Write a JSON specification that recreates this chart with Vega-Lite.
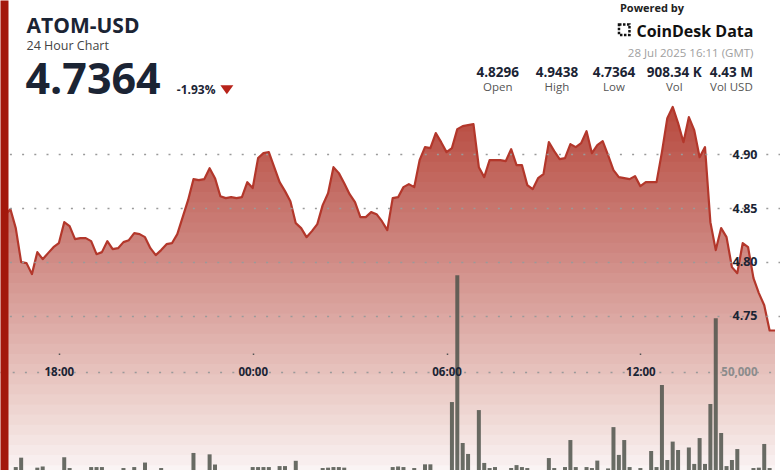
{
"$schema":"https://vega.github.io/schema/vega-lite/v6.json",
"width":780,"height":470,
"autosize":{"type":"none"},
"padding":0,
"background":"white",
"config":{"view":{"stroke":null},"font":"Open Sans"},
"data":{"values":[
{"time":"2025-07-27T16:20Z","price":4.8434,"volume":0},
{"time":"2025-07-27T16:30Z","price":4.8490,"volume":0},
{"time":"2025-07-27T16:40Z","price":4.8314,"volume":1500},
{"time":"2025-07-27T16:50Z","price":4.7998,"volume":6300},
{"time":"2025-07-27T17:00Z","price":4.7989,"volume":0},
{"time":"2025-07-27T17:10Z","price":4.7887,"volume":0},
{"time":"2025-07-27T17:20Z","price":4.8091,"volume":1200},
{"time":"2025-07-27T17:30Z","price":4.8026,"volume":1800},
{"time":"2025-07-27T17:40Z","price":4.8082,"volume":0},
{"time":"2025-07-27T17:50Z","price":4.8137,"volume":0},
{"time":"2025-07-27T18:00Z","price":4.8174,"volume":0},
{"time":"2025-07-27T18:10Z","price":4.8369,"volume":6500},
{"time":"2025-07-27T18:20Z","price":4.8332,"volume":1000},
{"time":"2025-07-27T18:30Z","price":4.8212,"volume":0},
{"time":"2025-07-27T18:40Z","price":4.8221,"volume":0},
{"time":"2025-07-27T18:50Z","price":4.8221,"volume":0},
{"time":"2025-07-27T19:00Z","price":4.8193,"volume":1500},
{"time":"2025-07-27T19:10Z","price":4.8072,"volume":1500},
{"time":"2025-07-27T19:20Z","price":4.8091,"volume":1500},
{"time":"2025-07-27T19:30Z","price":4.8193,"volume":0},
{"time":"2025-07-27T19:40Z","price":4.8119,"volume":0},
{"time":"2025-07-27T19:50Z","price":4.8128,"volume":0},
{"time":"2025-07-27T20:00Z","price":4.8184,"volume":1000},
{"time":"2025-07-27T20:10Z","price":4.8202,"volume":0},
{"time":"2025-07-27T20:20Z","price":4.8267,"volume":1500},
{"time":"2025-07-27T20:30Z","price":4.8258,"volume":0},
{"time":"2025-07-27T20:40Z","price":4.8230,"volume":3800},
{"time":"2025-07-27T20:50Z","price":4.8128,"volume":0},
{"time":"2025-07-27T21:00Z","price":4.8063,"volume":0},
{"time":"2025-07-27T21:10Z","price":4.8110,"volume":1000},
{"time":"2025-07-27T21:20Z","price":4.8165,"volume":0},
{"time":"2025-07-27T21:30Z","price":4.8174,"volume":0},
{"time":"2025-07-27T21:40Z","price":4.8258,"volume":0},
{"time":"2025-07-27T21:50Z","price":4.8416,"volume":0},
{"time":"2025-07-27T22:00Z","price":4.8573,"volume":0},
{"time":"2025-07-27T22:10Z","price":4.8768,"volume":8700},
{"time":"2025-07-27T22:20Z","price":4.8759,"volume":0},
{"time":"2025-07-27T22:30Z","price":4.8768,"volume":0},
{"time":"2025-07-27T22:40Z","price":4.8870,"volume":8000},
{"time":"2025-07-27T22:50Z","price":4.8777,"volume":2800},
{"time":"2025-07-27T23:00Z","price":4.8610,"volume":0},
{"time":"2025-07-27T23:10Z","price":4.8592,"volume":0},
{"time":"2025-07-27T23:20Z","price":4.8601,"volume":0},
{"time":"2025-07-27T23:30Z","price":4.8592,"volume":0},
{"time":"2025-07-27T23:40Z","price":4.8601,"volume":0},
{"time":"2025-07-27T23:50Z","price":4.8740,"volume":0},
{"time":"2025-07-28T00:00Z","price":4.8685,"volume":1500},
{"time":"2025-07-28T00:10Z","price":4.8963,"volume":1500},
{"time":"2025-07-28T00:20Z","price":4.9009,"volume":1500},
{"time":"2025-07-28T00:30Z","price":4.9019,"volume":1500},
{"time":"2025-07-28T00:40Z","price":4.8879,"volume":0},
{"time":"2025-07-28T00:50Z","price":4.8740,"volume":2000},
{"time":"2025-07-28T01:00Z","price":4.8657,"volume":2000},
{"time":"2025-07-28T01:10Z","price":4.8564,"volume":0},
{"time":"2025-07-28T01:20Z","price":4.8360,"volume":4700},
{"time":"2025-07-28T01:30Z","price":4.8314,"volume":0},
{"time":"2025-07-28T01:40Z","price":4.8230,"volume":0},
{"time":"2025-07-28T01:50Z","price":4.8286,"volume":0},
{"time":"2025-07-28T02:00Z","price":4.8351,"volume":0},
{"time":"2025-07-28T02:10Z","price":4.8527,"volume":1000},
{"time":"2025-07-28T02:20Z","price":4.8638,"volume":1200},
{"time":"2025-07-28T02:30Z","price":4.8879,"volume":1500},
{"time":"2025-07-28T02:40Z","price":4.8824,"volume":1500},
{"time":"2025-07-28T02:50Z","price":4.8731,"volume":1200},
{"time":"2025-07-28T03:00Z","price":4.8629,"volume":0},
{"time":"2025-07-28T03:10Z","price":4.8555,"volume":0},
{"time":"2025-07-28T03:20Z","price":4.8416,"volume":0},
{"time":"2025-07-28T03:30Z","price":4.8416,"volume":0},
{"time":"2025-07-28T03:40Z","price":4.8462,"volume":0},
{"time":"2025-07-28T03:50Z","price":4.8443,"volume":0},
{"time":"2025-07-28T04:00Z","price":4.8378,"volume":0},
{"time":"2025-07-28T04:10Z","price":4.8295,"volume":0},
{"time":"2025-07-28T04:20Z","price":4.8592,"volume":1500},
{"time":"2025-07-28T04:30Z","price":4.8601,"volume":1800},
{"time":"2025-07-28T04:40Z","price":4.8694,"volume":1500},
{"time":"2025-07-28T04:50Z","price":4.8722,"volume":0},
{"time":"2025-07-28T05:00Z","price":4.8694,"volume":1000},
{"time":"2025-07-28T05:10Z","price":4.8944,"volume":0},
{"time":"2025-07-28T05:20Z","price":4.9065,"volume":2900},
{"time":"2025-07-28T05:30Z","price":4.9056,"volume":2900},
{"time":"2025-07-28T05:40Z","price":4.9195,"volume":0},
{"time":"2025-07-28T05:50Z","price":4.9111,"volume":0},
{"time":"2025-07-28T06:00Z","price":4.9019,"volume":0},
{"time":"2025-07-28T06:10Z","price":4.9056,"volume":34700},
{"time":"2025-07-28T06:20Z","price":4.9232,"volume":99500},
{"time":"2025-07-28T06:30Z","price":4.9260,"volume":13800},
{"time":"2025-07-28T06:40Z","price":4.9269,"volume":8200},
{"time":"2025-07-28T06:50Z","price":4.9278,"volume":0},
{"time":"2025-07-28T07:00Z","price":4.8879,"volume":30600},
{"time":"2025-07-28T07:10Z","price":4.8787,"volume":3600},
{"time":"2025-07-28T07:20Z","price":4.8944,"volume":1000},
{"time":"2025-07-28T07:30Z","price":4.8944,"volume":1500},
{"time":"2025-07-28T07:40Z","price":4.8944,"volume":0},
{"time":"2025-07-28T07:50Z","price":4.8935,"volume":0},
{"time":"2025-07-28T08:00Z","price":4.9046,"volume":1000},
{"time":"2025-07-28T08:10Z","price":4.8898,"volume":2500},
{"time":"2025-07-28T08:20Z","price":4.8898,"volume":1500},
{"time":"2025-07-28T08:30Z","price":4.8713,"volume":1000},
{"time":"2025-07-28T08:40Z","price":4.8675,"volume":0},
{"time":"2025-07-28T08:50Z","price":4.8777,"volume":0},
{"time":"2025-07-28T09:00Z","price":4.8815,"volume":0},
{"time":"2025-07-28T09:10Z","price":4.9111,"volume":6100},
{"time":"2025-07-28T09:20Z","price":4.9028,"volume":1000},
{"time":"2025-07-28T09:30Z","price":4.8954,"volume":0},
{"time":"2025-07-28T09:40Z","price":4.8963,"volume":1500},
{"time":"2025-07-28T09:50Z","price":4.9093,"volume":15300},
{"time":"2025-07-28T10:00Z","price":4.9065,"volume":1500},
{"time":"2025-07-28T10:10Z","price":4.9102,"volume":0},
{"time":"2025-07-28T10:20Z","price":4.9213,"volume":1500},
{"time":"2025-07-28T10:30Z","price":4.9009,"volume":1000},
{"time":"2025-07-28T10:40Z","price":4.9084,"volume":4800},
{"time":"2025-07-28T10:50Z","price":4.9121,"volume":0},
{"time":"2025-07-28T11:00Z","price":4.8991,"volume":800},
{"time":"2025-07-28T11:10Z","price":4.8852,"volume":21900},
{"time":"2025-07-28T11:20Z","price":4.8787,"volume":7700},
{"time":"2025-07-28T11:30Z","price":4.8777,"volume":15300},
{"time":"2025-07-28T11:40Z","price":4.8768,"volume":1500},
{"time":"2025-07-28T11:50Z","price":4.8796,"volume":0},
{"time":"2025-07-28T12:00Z","price":4.8703,"volume":1000},
{"time":"2025-07-28T12:10Z","price":4.8740,"volume":0},
{"time":"2025-07-28T12:20Z","price":4.8740,"volume":9700},
{"time":"2025-07-28T12:30Z","price":4.8740,"volume":1500},
{"time":"2025-07-28T12:40Z","price":4.9019,"volume":43400},
{"time":"2025-07-28T12:50Z","price":4.9334,"volume":5100},
{"time":"2025-07-28T13:00Z","price":4.9438,"volume":14500},
{"time":"2025-07-28T13:10Z","price":4.9288,"volume":10200},
{"time":"2025-07-28T13:20Z","price":4.9111,"volume":0},
{"time":"2025-07-28T13:30Z","price":4.9343,"volume":11500},
{"time":"2025-07-28T13:40Z","price":4.9223,"volume":3100},
{"time":"2025-07-28T13:50Z","price":4.8972,"volume":16300},
{"time":"2025-07-28T14:00Z","price":4.9065,"volume":3100},
{"time":"2025-07-28T14:10Z","price":4.8369,"volume":33700},
{"time":"2025-07-28T14:20Z","price":4.8110,"volume":77500},
{"time":"2025-07-28T14:30Z","price":4.8314,"volume":18900},
{"time":"2025-07-28T14:40Z","price":4.8230,"volume":2000},
{"time":"2025-07-28T14:50Z","price":4.7952,"volume":5100},
{"time":"2025-07-28T15:00Z","price":4.7896,"volume":10700},
{"time":"2025-07-28T15:10Z","price":4.8174,"volume":0},
{"time":"2025-07-28T15:20Z","price":4.8137,"volume":0},
{"time":"2025-07-28T15:30Z","price":4.7850,"volume":1000},
{"time":"2025-07-28T15:40Z","price":4.7711,"volume":1200},
{"time":"2025-07-28T15:50Z","price":4.7599,"volume":13300},
{"time":"2025-07-28T16:00Z","price":4.7364,"volume":1000},
{"time":"2025-07-28T16:10Z","price":4.7364,"volume":0}
]},
"resolve":{"scale":{"y":"independent"}},
"layer":[
{"mark":{"type":"area","interpolate":"linear","color":"#b9483c"},
 "encoding":{
  "x":{"field":"time","type":"temporal",
   "scale":{"type":"utc","domain":[{"year":2025,"month":7,"date":27,"hours":16,"minutes":20,"utc":true},{"year":2025,"month":7,"date":28,"hours":16,"minutes":10,"utc":true}]},
   "axis":{"orient":"bottom","offset":-117,"title":null,"values":[{"year":2025,"month":7,"date":27,"hours":18,"utc":true},{"year":2025,"month":7,"date":28,"hours":0,"utc":true},{"year":2025,"month":7,"date":28,"hours":6,"utc":true},{"year":2025,"month":7,"date":28,"hours":12,"utc":true}],
    "labelExpr":"(utchours(datum.value) < 10 ? '0' : '') + utchours(datum.value) + ':00'","domain":false,"grid":false,"ticks":true,"tickSize":1.5,"tickColor":"#555555","tickWidth":1.5,
    "labelPadding":17.5,"labelBaseline":"middle","labelFlush":false,"labelOverlap":false,"labelFont":"Open Sans","labelFontSize":11.5,"labelFontWeight":"bold","labelColor":"#1b2434","zindex":1}},
  "y":{"field":"price","type":"quantitative","scale":{"domain":[4.607,5.043],"zero":false,"nice":false},
   "axis":{"orient":"right","title":null,"values":[4.75,4.8,4.85,4.9],"format":".2f","ticks":false,"domain":false,"labelAlign":"right","labelPadding":-23,"labelBaseline":"middle","labelFont":"Open Sans","labelFontSize":12.5,"labelFontWeight":"bold","labelColor":"#1b2434","grid":true,"gridDash":[2,10.2],"gridColor":"#9a9a9a","gridWidth":1.5,"zindex":1}}
 }},
{"layer":[
 {"data":{"values":[{}]},"mark":{"type":"rect","color":"white","opacity":0.0264},"encoding":{"y":{"datum":4.9398,"type":"quantitative","scale":{"domain":[4.607,5.043],"zero":false,"nice":false},"axis":null},"y2":{"datum":4.607}}},
 {"data":{"values":[{}]},"mark":{"type":"rect","color":"white","opacity":0.0271},"encoding":{"y":{"datum":4.9304,"type":"quantitative","axis":null},"y2":{"datum":4.607}}},
 {"data":{"values":[{}]},"mark":{"type":"rect","color":"white","opacity":0.0279},"encoding":{"y":{"datum":4.9211,"type":"quantitative","axis":null},"y2":{"datum":4.607}}},
 {"data":{"values":[{}]},"mark":{"type":"rect","color":"white","opacity":0.0287},"encoding":{"y":{"datum":4.9117,"type":"quantitative","axis":null},"y2":{"datum":4.607}}},
 {"data":{"values":[{}]},"mark":{"type":"rect","color":"white","opacity":0.0295},"encoding":{"y":{"datum":4.9023,"type":"quantitative","axis":null},"y2":{"datum":4.607}}},
 {"data":{"values":[{}]},"mark":{"type":"rect","color":"white","opacity":0.0304},"encoding":{"y":{"datum":4.8929,"type":"quantitative","axis":null},"y2":{"datum":4.607}}},
 {"data":{"values":[{}]},"mark":{"type":"rect","color":"white","opacity":0.0314},"encoding":{"y":{"datum":4.8835,"type":"quantitative","axis":null},"y2":{"datum":4.607}}},
 {"data":{"values":[{}]},"mark":{"type":"rect","color":"white","opacity":0.0324},"encoding":{"y":{"datum":4.8742,"type":"quantitative","axis":null},"y2":{"datum":4.607}}},
 {"data":{"values":[{}]},"mark":{"type":"rect","color":"white","opacity":0.0335},"encoding":{"y":{"datum":4.8648,"type":"quantitative","axis":null},"y2":{"datum":4.607}}},
 {"data":{"values":[{}]},"mark":{"type":"rect","color":"white","opacity":0.0346},"encoding":{"y":{"datum":4.8554,"type":"quantitative","axis":null},"y2":{"datum":4.607}}},
 {"data":{"values":[{}]},"mark":{"type":"rect","color":"white","opacity":0.0358},"encoding":{"y":{"datum":4.8460,"type":"quantitative","axis":null},"y2":{"datum":4.607}}},
 {"data":{"values":[{}]},"mark":{"type":"rect","color":"white","opacity":0.0372},"encoding":{"y":{"datum":4.8366,"type":"quantitative","axis":null},"y2":{"datum":4.607}}},
 {"data":{"values":[{}]},"mark":{"type":"rect","color":"white","opacity":0.0386},"encoding":{"y":{"datum":4.8273,"type":"quantitative","axis":null},"y2":{"datum":4.607}}},
 {"data":{"values":[{}]},"mark":{"type":"rect","color":"white","opacity":0.0402},"encoding":{"y":{"datum":4.8179,"type":"quantitative","axis":null},"y2":{"datum":4.607}}},
 {"data":{"values":[{}]},"mark":{"type":"rect","color":"white","opacity":0.0418},"encoding":{"y":{"datum":4.8085,"type":"quantitative","axis":null},"y2":{"datum":4.607}}},
 {"data":{"values":[{}]},"mark":{"type":"rect","color":"white","opacity":0.0437},"encoding":{"y":{"datum":4.7991,"type":"quantitative","axis":null},"y2":{"datum":4.607}}},
 {"data":{"values":[{}]},"mark":{"type":"rect","color":"white","opacity":0.0457},"encoding":{"y":{"datum":4.7897,"type":"quantitative","axis":null},"y2":{"datum":4.607}}},
 {"data":{"values":[{}]},"mark":{"type":"rect","color":"white","opacity":0.0479},"encoding":{"y":{"datum":4.7804,"type":"quantitative","axis":null},"y2":{"datum":4.607}}},
 {"data":{"values":[{}]},"mark":{"type":"rect","color":"white","opacity":0.0503},"encoding":{"y":{"datum":4.7710,"type":"quantitative","axis":null},"y2":{"datum":4.607}}},
 {"data":{"values":[{}]},"mark":{"type":"rect","color":"white","opacity":0.0529},"encoding":{"y":{"datum":4.7616,"type":"quantitative","axis":null},"y2":{"datum":4.607}}},
 {"data":{"values":[{}]},"mark":{"type":"rect","color":"white","opacity":0.0559},"encoding":{"y":{"datum":4.7522,"type":"quantitative","axis":null},"y2":{"datum":4.607}}},
 {"data":{"values":[{}]},"mark":{"type":"rect","color":"white","opacity":0.0592},"encoding":{"y":{"datum":4.7428,"type":"quantitative","axis":null},"y2":{"datum":4.607}}},
 {"data":{"values":[{}]},"mark":{"type":"rect","color":"white","opacity":0.0629},"encoding":{"y":{"datum":4.7335,"type":"quantitative","axis":null},"y2":{"datum":4.607}}},
 {"data":{"values":[{}]},"mark":{"type":"rect","color":"white","opacity":0.0671},"encoding":{"y":{"datum":4.7241,"type":"quantitative","axis":null},"y2":{"datum":4.607}}},
 {"data":{"values":[{}]},"mark":{"type":"rect","color":"white","opacity":0.0720},"encoding":{"y":{"datum":4.7147,"type":"quantitative","axis":null},"y2":{"datum":4.607}}},
 {"data":{"values":[{}]},"mark":{"type":"rect","color":"white","opacity":0.0776},"encoding":{"y":{"datum":4.7053,"type":"quantitative","axis":null},"y2":{"datum":4.607}}},
 {"data":{"values":[{}]},"mark":{"type":"rect","color":"white","opacity":0.0841},"encoding":{"y":{"datum":4.6959,"type":"quantitative","axis":null},"y2":{"datum":4.607}}},
 {"data":{"values":[{}]},"mark":{"type":"rect","color":"white","opacity":0.0918},"encoding":{"y":{"datum":4.6866,"type":"quantitative","axis":null},"y2":{"datum":4.607}}},
 {"data":{"values":[{}]},"mark":{"type":"rect","color":"white","opacity":0.1011},"encoding":{"y":{"datum":4.6772,"type":"quantitative","axis":null},"y2":{"datum":4.607}}},
 {"data":{"values":[{}]},"mark":{"type":"rect","color":"white","opacity":0.1124},"encoding":{"y":{"datum":4.6678,"type":"quantitative","axis":null},"y2":{"datum":4.607}}},
 {"data":{"values":[{}]},"mark":{"type":"rect","color":"white","opacity":0.1267},"encoding":{"y":{"datum":4.6584,"type":"quantitative","axis":null},"y2":{"datum":4.607}}},
 {"data":{"values":[{}]},"mark":{"type":"rect","color":"white","opacity":0.1450},"encoding":{"y":{"datum":4.6490,"type":"quantitative","axis":null},"y2":{"datum":4.607}}},
 {"data":{"values":[{}]},"mark":{"type":"rect","color":"white","opacity":0.1696},"encoding":{"y":{"datum":4.6397,"type":"quantitative","axis":null},"y2":{"datum":4.607}}},
 {"data":{"values":[{}]},"mark":{"type":"rect","color":"white","opacity":0.2043},"encoding":{"y":{"datum":4.6303,"type":"quantitative","axis":null},"y2":{"datum":4.607}}},
 {"data":{"values":[{}]},"mark":{"type":"rect","color":"white","opacity":0.2568},"encoding":{"y":{"datum":4.6209,"type":"quantitative","axis":null},"y2":{"datum":4.607}}},
 {"data":{"values":[{}]},"mark":{"type":"rect","color":"white","opacity":0.3455},"encoding":{"y":{"datum":4.6115,"type":"quantitative","axis":null},"y2":{"datum":4.607}}}
]},
{"mark":{"type":"bar","size":4,"color":"#4f534b","opacity":0.85},
 "encoding":{
  "x":{"field":"time","type":"temporal"},
  "y":{"field":"volume","type":"quantitative","scale":{"domain":[0,240000],"nice":false},
   "axis":{"orient":"left","title":null,"values":[50000],"labelExpr":"datum.value == 50000 ? '50,000' : ''","offset":-4,"domain":true,"domainColor":"#a3180c","domainWidth":8,"ticks":false,"labelPadding":-753,"labelAlign":"right","labelBaseline":"middle","labelFont":"Open Sans","labelFontSize":11.5,"labelFontWeight":"bold","labelColor":"#8c8c8c","grid":true,"gridDash":[2,10.2],"gridColor":"#9a9a9a","gridWidth":1.5,"zindex":1}}
 }},
{"layer":[
 {"mark":{"type":"line","color":"#b3372b","strokeWidth":2.2,"strokeJoin":"round"},
  "encoding":{"x":{"field":"time","type":"temporal"},"y":{"field":"price","type":"quantitative","scale":{"domain":[4.607,5.043],"zero":false,"nice":false},"axis":null}}},
 {"data":{"values":[{}]},"mark":{"type":"text","text":"ATOM-USD","align":"left","baseline":"alphabetic","font":"Open Sans","fontSize":21,"fontWeight":"bold","color":"#1b2434"},
  "encoding":{"x":{"datum":{"year":2025,"month":7,"date":27,"hours":17,"minutes":0,"utc":true},"type":"temporal"},"y":{"datum":5.0122,"type":"quantitative","axis":null}}},
 {"data":{"values":[{}]},"mark":{"type":"text","text":"24 Hour Chart","align":"left","baseline":"alphabetic","font":"Open Sans","fontSize":12.5,"color":"#444444"},
  "encoding":{"x":{"datum":{"year":2025,"month":7,"date":27,"hours":17,"minutes":0,"utc":true},"type":"temporal"},"y":{"datum":4.9964,"type":"quantitative","axis":null}}},
 {"data":{"values":[{}]},"mark":{"type":"text","text":"4.7364","align":"left","baseline":"alphabetic","font":"Open Sans","fontSize":43,"fontWeight":"bold","color":"#1b2434"},
  "encoding":{"x":{"datum":{"year":2025,"month":7,"date":27,"hours":16,"minutes":58,"utc":true},"type":"temporal"},"y":{"datum":4.9557,"type":"quantitative","axis":null}}},
 {"data":{"values":[{}]},"mark":{"type":"text","text":"-1.93%","align":"left","baseline":"alphabetic","font":"Open Sans","fontSize":12,"fontWeight":"bold","color":"#1b2434"},
  "encoding":{"x":{"datum":{"year":2025,"month":7,"date":27,"hours":21,"minutes":39,"utc":true},"type":"temporal"},"y":{"datum":4.9557,"type":"quantitative","axis":null}}},
 {"data":{"values":[{}]},"mark":{"type":"point","shape":"M-1,-0.7L1,-0.7L0,0.7Z","filled":true,"size":169,"color":"#b8231a","opacity":1},
  "encoding":{"x":{"datum":{"year":2025,"month":7,"date":27,"hours":23,"minutes":12,"utc":true},"type":"temporal"},"y":{"datum":4.9598,"type":"quantitative","axis":null}}},
 {"data":{"values":[{}]},"mark":{"type":"text","text":"Powered by","align":"left","baseline":"alphabetic","font":"Open Sans","fontSize":11,"fontWeight":"bold","color":"#222222"},
  "encoding":{"x":{"datum":{"year":2025,"month":7,"date":28,"hours":11,"minutes":22,"utc":true},"type":"temporal"},"y":{"datum":5.0322,"type":"quantitative","axis":null}}},
 {"data":{"values":[{}]},"mark":{"type":"point","shape":"square","filled":false,"size":110,"stroke":"#111111","strokeWidth":2.5,"strokeDash":[2.5,1.5],"opacity":1},
  "encoding":{"x":{"datum":{"year":2025,"month":7,"date":28,"hours":11,"minutes":30,"utc":true},"type":"temporal"},"y":{"datum":5.0155,"type":"quantitative","axis":null}}},
 {"data":{"values":[{}]},"mark":{"type":"text","text":"CoinDesk Data","align":"right","baseline":"alphabetic","font":"Open Sans","fontSize":16,"fontWeight":"bold","color":"#111111"},
  "encoding":{"x":{"datum":{"year":2025,"month":7,"date":28,"hours":15,"minutes":30,"utc":true},"type":"temporal"},"y":{"datum":5.009,"type":"quantitative","axis":null}}},
 {"data":{"values":[{}]},"mark":{"type":"text","text":"28 Jul 2025 16:11 (GMT)","align":"right","baseline":"alphabetic","font":"Open Sans","fontSize":11.5,"color":"#a0a0a0"},
  "encoding":{"x":{"datum":{"year":2025,"month":7,"date":28,"hours":15,"minutes":30,"utc":true},"type":"temporal"},"y":{"datum":4.9905,"type":"quantitative","axis":null}}},
 {"data":{"values":[{}]},"mark":{"type":"text","text":"4.8296","align":"center","baseline":"alphabetic","font":"Open Sans","fontSize":13.5,"fontWeight":"bold","color":"#1b2434"},
  "encoding":{"x":{"datum":{"year":2025,"month":7,"date":28,"hours":7,"minutes":35,"utc":true},"type":"temporal"},"y":{"datum":4.9719,"type":"quantitative","axis":null}}},
 {"data":{"values":[{}]},"mark":{"type":"text","text":"4.9438","align":"center","baseline":"alphabetic","font":"Open Sans","fontSize":13.5,"fontWeight":"bold","color":"#1b2434"},
  "encoding":{"x":{"datum":{"year":2025,"month":7,"date":28,"hours":9,"minutes":25,"utc":true},"type":"temporal"},"y":{"datum":4.9719,"type":"quantitative","axis":null}}},
 {"data":{"values":[{}]},"mark":{"type":"text","text":"4.7364","align":"center","baseline":"alphabetic","font":"Open Sans","fontSize":13.5,"fontWeight":"bold","color":"#1b2434"},
  "encoding":{"x":{"datum":{"year":2025,"month":7,"date":28,"hours":11,"minutes":11,"utc":true},"type":"temporal"},"y":{"datum":4.9719,"type":"quantitative","axis":null}}},
 {"data":{"values":[{}]},"mark":{"type":"text","text":"908.34 K","align":"center","baseline":"alphabetic","font":"Open Sans","fontSize":13.5,"fontWeight":"bold","color":"#1b2434"},
  "encoding":{"x":{"datum":{"year":2025,"month":7,"date":28,"hours":13,"minutes":3,"utc":true},"type":"temporal"},"y":{"datum":4.9719,"type":"quantitative","axis":null}}},
 {"data":{"values":[{}]},"mark":{"type":"text","text":"4.43 M","align":"center","baseline":"alphabetic","font":"Open Sans","fontSize":13.5,"fontWeight":"bold","color":"#1b2434"},
  "encoding":{"x":{"datum":{"year":2025,"month":7,"date":28,"hours":14,"minutes":49,"utc":true},"type":"temporal"},"y":{"datum":4.9719,"type":"quantitative","axis":null}}},
 {"data":{"values":[{}]},"mark":{"type":"text","text":"Open","align":"center","baseline":"alphabetic","font":"Open Sans","fontSize":11.5,"color":"#555555"},
  "encoding":{"x":{"datum":{"year":2025,"month":7,"date":28,"hours":7,"minutes":35,"utc":true},"type":"temporal"},"y":{"datum":4.9584,"type":"quantitative","axis":null}}},
 {"data":{"values":[{}]},"mark":{"type":"text","text":"High","align":"center","baseline":"alphabetic","font":"Open Sans","fontSize":11.5,"color":"#555555"},
  "encoding":{"x":{"datum":{"year":2025,"month":7,"date":28,"hours":9,"minutes":25,"utc":true},"type":"temporal"},"y":{"datum":4.9584,"type":"quantitative","axis":null}}},
 {"data":{"values":[{}]},"mark":{"type":"text","text":"Low","align":"center","baseline":"alphabetic","font":"Open Sans","fontSize":11.5,"color":"#555555"},
  "encoding":{"x":{"datum":{"year":2025,"month":7,"date":28,"hours":11,"minutes":11,"utc":true},"type":"temporal"},"y":{"datum":4.9584,"type":"quantitative","axis":null}}},
 {"data":{"values":[{}]},"mark":{"type":"text","text":"Vol","align":"center","baseline":"alphabetic","font":"Open Sans","fontSize":11.5,"color":"#555555"},
  "encoding":{"x":{"datum":{"year":2025,"month":7,"date":28,"hours":13,"minutes":3,"utc":true},"type":"temporal"},"y":{"datum":4.9584,"type":"quantitative","axis":null}}},
 {"data":{"values":[{}]},"mark":{"type":"text","text":"Vol USD","align":"center","baseline":"alphabetic","font":"Open Sans","fontSize":11.5,"color":"#555555"},
  "encoding":{"x":{"datum":{"year":2025,"month":7,"date":28,"hours":14,"minutes":49,"utc":true},"type":"temporal"},"y":{"datum":4.9584,"type":"quantitative","axis":null}}}
]}
]
}
